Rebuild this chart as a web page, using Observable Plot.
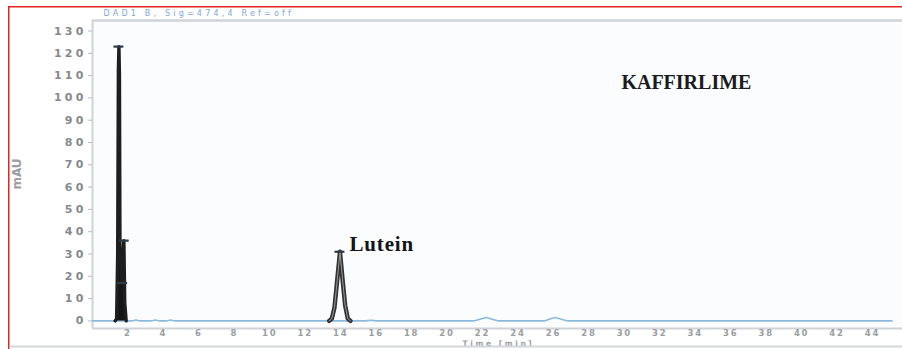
<!DOCTYPE html>
<html>
<head>
<meta charset="utf-8">
<script src="https://cdn.jsdelivr.net/npm/d3@7"></script>
<script src="https://cdn.jsdelivr.net/npm/@observablehq/plot@0.6"></script>
<style>
  html, body { margin: 0; padding: 0; background: #fff; }
  #wrap { position: relative; width: 902px; height: 349px; overflow: hidden; background: #fff; }
  #wrap svg { position: absolute; left: 0; top: 0; overflow: visible; }
</style>
</head>
<body>
<div id="wrap"></div>
<script>
// ---- data ----
const yTicks = [0, 10, 20, 30, 40, 50, 60, 70, 80, 90, 100, 110, 120, 130];
const xTicks = [2, 4, 6, 8, 10, 12, 14, 16, 18, 20, 22, 24, 26, 28, 30, 32, 34, 36, 38, 40, 42, 44];

// baseline signal (light blue trace)
const sigTime  = [0, 1.2, 2.2, 2.45, 2.7, 3.3, 3.55, 3.8, 4.15, 4.4, 4.65, 5.0, 15.4, 15.7, 16.0, 21.5, 21.9, 22.2, 22.5, 22.9, 25.5, 25.8, 26.1, 26.4, 26.8, 45.1];
const sigValue = [0, 0,   0,   0.4,  0,   0,   0.4,  0,   0,    0.4, 0,    0,   0,    0.3,  0,    0,    0.9,  1.5,  0.9,  0,    0,    0.9,  1.5,  0.9,  0,    0];

// main (solvent-front) peak cluster, highlighted in black
const mainTime  = [1.28, 1.36, 1.42, 1.46, 1.49, 1.52, 1.55, 1.60, 1.66, 1.72, 1.77, 1.82, 1.90];
const mainValue = [0,    1,    30,   112,  123,  110,  30,   28,   17,   30,   36,   8,    0];

// lutein peak, highlighted
const lutTime  = [13.35, 13.5, 13.65, 13.8, 13.96, 14.1, 14.25, 14.4, 14.55];
const lutValue = [0,     1,    6,     18,   31,    19,   7,     1,    0];

// apex markers
const apexTime  = [1.49, 1.79, 1.70, 13.96];
const apexValue = [123,  36,   17,   31];

// annotations
const titleText = "DAD1 B, Sig=474,4 Ref=off";
const xLabelText = "Time [min]";
const yLabelText = "mAU";
const sampleText = "KAFFIRLIME";
const sampleAt = {t: 33.5, v: 107};
const peakLabel = "Lutein";
const peakLabelAt = {t: 14.5, v: 34.5};

// ---- build ----
const sig = sigTime.map((t, i) => ({t, v: sigValue[i]}));
const main = mainTime.map((t, i) => ({t, v: mainValue[i]}));
const lut = lutTime.map((t, i) => ({t, v: lutValue[i]}));
const apex = apexTime.map((t, i) => ({t1: t - 0.28, t2: t + 0.28, v: apexValue[i]}));

const xMax = 45.69, yMin = -3.4, yMax = 134.7;

const chart = Plot.plot({
  width: 902,
  height: 349,
  marginLeft: 92,
  marginRight: 0,
  marginTop: 20,
  marginBottom: 21,
  style: {background: "transparent", fontFamily: "'DejaVu Sans', sans-serif"},
  x: {domain: [0, xMax]},
  y: {domain: [yMin, yMax]},
  marks: [
    Plot.frame({fill: "#fafcfe", stroke: null}),
    Plot.ruleY([yMax], {stroke: "#cfd3d8", strokeWidth: 2.5}),
    Plot.ruleY([yMin], {stroke: "#cfd3d8", strokeWidth: 2}),
    Plot.ruleX([0], {stroke: "#cfd3d8", strokeWidth: 2}),
    Plot.axisY({ticks: yTicks, tickSize: 4, tickPadding: 2, label: null, stroke: "#b8bcc2",
      fill: "#85898d", fontSize: 11, fontWeight: "bold"}),
    Plot.axisX({ticks: xTicks, tickSize: 0, tickPadding: 1, label: null,
      fill: "#9a9ea2", fontSize: 8.5, fontWeight: "bold"}),
    Plot.line(sig, {x: "t", y: "v", stroke: "#8bb9e0", strokeWidth: 1.6}),
    Plot.areaY(main, {x: "t", y: "v", fill: "#151515"}),
    Plot.line(main, {x: "t", y: "v", stroke: "#1e1e1e", strokeWidth: 3.4}),
    Plot.line(lut, {x: "t", y: "v", stroke: "#333333", strokeWidth: 4.4}),
    Plot.line(lut, {x: "t", y: "v", stroke: "#9a9a9a", strokeWidth: 1}),
    Plot.ruleY(apex, {x1: "t1", x2: "t2", y: "v", stroke: "#2f3b44", strokeWidth: 2.2}),
    Plot.text([titleText], {frameAnchor: "top-left", dx: 11, dy: -10, fill: "#7ea9dc", fontSize: 8}),
    Plot.text([xLabelText], {x: 22.9, y: yMin, dy: 15, fill: "#9a9ea2", fontSize: 7.5, fontWeight: "bold"}),
    Plot.text([sampleText], {x: sampleAt.t, y: sampleAt.v, fill: "#1a1a22", fontSize: 20,
      fontWeight: "bold", fontFamily: "'Liberation Serif', serif"}),
    Plot.text([peakLabel], {x: peakLabelAt.t, y: peakLabelAt.v, textAnchor: "start", fill: "#141418",
      fontSize: 21, fontWeight: "bold", fontFamily: "'Liberation Serif', serif"})
  ]
});

const svg = d3.select(chart);
const byText = (s) => svg.selectAll("text").filter(function () { return this.textContent === s; });
// stretched-looking lettering of the scanned original
svg.selectAll('g[aria-label="y-axis tick label"] text').style("letter-spacing", "3.2px");
svg.selectAll('g[aria-label="x-axis tick label"] text').style("letter-spacing", "1.8px");
byText(titleText).style("letter-spacing", "3.2px");
byText(xLabelText).style("letter-spacing", "2.6px");
byText(peakLabel).style("letter-spacing", "0.8px");
// rotated y-axis label, drawn in the left margin
svg.append("text")
  .attr("transform", "translate(21,174) rotate(-90)")
  .attr("text-anchor", "middle")
  .attr("fill", "#9a9ea2")
  .attr("font-size", 12)
  .attr("font-weight", "bold")
  .attr("font-family", "'DejaVu Sans', sans-serif")
  .text(yLabelText);
// picture border: red on left and top, light grey at the bottom
svg.append("path").attr("d", "M8.75,349V6.75H902").attr("fill", "none").attr("stroke", "#e3231f").attr("stroke-width", 1.5);
svg.append("path").attr("d", "M9.5,346.5H902").attr("fill", "none").attr("stroke", "#d4d6da").attr("stroke-width", 2);

document.getElementById("wrap").appendChild(chart);
</script>
</body>
</html>
